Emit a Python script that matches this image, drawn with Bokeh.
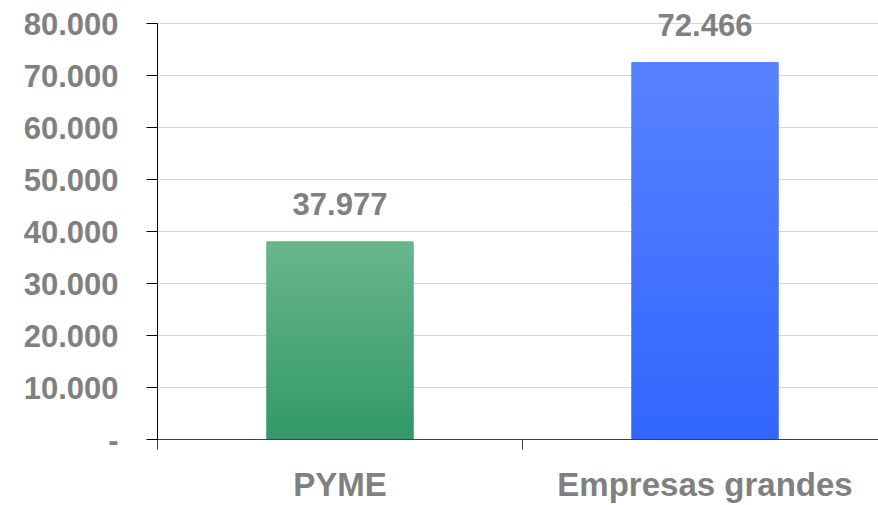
from bokeh.plotting import figure
from bokeh.models import FixedTicker, Range1d
from bokeh.embed import file_html
from bokeh.resources import INLINE
from bokeh.core.properties import value

# ---- data ----
categories = ["PYME", "Empresas grandes"]
values = [37977, 72466]
value_labels = ["37.977", "72.466"]
y_ticks = [0, 10000, 20000, 30000, 40000, 50000, 60000, 70000, 80000]
y_tick_labels = ["-", "10.000", "20.000", "30.000", "40.000", "50.000", "60.000", "70.000", "80.000"]

# ---- style ----
top_colors = [(0x68, 0xB5, 0x8C), (0x57, 0x82, 0xFF)]
bottom_colors = [(0x33, 0x99, 0x66), (0x33, 0x66, 0xFF)]
TEXT = "#808080"
FONT = "Liberation Sans"

W, H = 878, 505
left, bottom_border = 157, 66
frame_h = H - bottom_border
px_per_unit = 416 / 80000.0
y_end = frame_h / px_per_unit
x_end = (W - left) / 365.0

x_centers = [i + 0.5 for i in range(len(categories))]
boundaries = [i for i in range(len(categories) + 1)]

p = figure(width=W, height=H, title=None,
           x_range=Range1d(0, x_end), y_range=Range1d(0, y_end),
           output_backend="svg", toolbar_location=None,
           min_border_left=left, min_border_right=0, min_border_top=0,
           min_border_bottom=bottom_border)
p.outline_line_color = None
p.background_fill_color = "white"
p.border_fill_color = "white"

# gradient bars drawn as thin horizontal slices of each bar
N = 60
xs, bots, tops, cols = [], [], [], []
for xc, v, tc, bc in zip(x_centers, values, top_colors, bottom_colors):
    for k in range(N):
        t = k / (N - 1)
        c = tuple(int(round(bc[j] + (tc[j] - bc[j]) * t)) for j in range(3))
        xs.append(xc)
        bots.append(v * k / N)
        tops.append(v * (k + 1) / N)
        cols.append("#%02x%02x%02x" % c)
p.vbar(x=xs, bottom=bots, top=tops, width=0.4, fill_color=cols, line_color=cols, line_width=1.5)

p.text(x=x_centers, y=values, text=value_labels, text_align="center",
       text_baseline="alphabetic", y_offset=-38,
       text_font=value(FONT), text_font_style="bold", text_font_size="31px",
       text_color=TEXT)

# y axis
yt = FixedTicker(ticks=y_ticks)
p.yaxis.ticker = yt
p.yaxis.major_label_overrides = {t: l for t, l in zip(y_ticks, y_tick_labels)}
p.yaxis.bounds = (y_ticks[0], y_ticks[-1])
p.yaxis.axis_line_color = "black"
p.yaxis.major_tick_line_color = "black"
p.yaxis.major_tick_out = 11
p.yaxis.major_tick_in = 0
p.yaxis.minor_tick_line_color = None
p.yaxis.major_label_standoff = 28
p.yaxis.major_label_text_font = FONT
p.yaxis.major_label_text_font_style = "bold"
p.yaxis.major_label_text_font_size = "31px"
p.yaxis.major_label_text_color = TEXT

# x axis
p.xaxis.ticker = FixedTicker(ticks=x_centers, minor_ticks=boundaries)
p.xaxis.major_label_overrides = {x: c for x, c in zip(x_centers, categories)}
p.xaxis.axis_line_color = "#404040"
p.xaxis.major_tick_line_color = None
p.xaxis.major_tick_out = 0
p.xaxis.major_tick_in = 0
p.xaxis.minor_tick_line_color = "#404040"
p.xaxis.minor_tick_out = 10
p.xaxis.minor_tick_in = 0
p.xaxis.major_label_standoff = 16
p.xaxis.major_label_text_font = FONT
p.xaxis.major_label_text_font_style = "bold"
p.xaxis.major_label_text_font_size = "33px"
p.xaxis.major_label_text_color = TEXT

# grid
p.xgrid.visible = False
p.ygrid.ticker = yt
p.ygrid.grid_line_color = "#D6D6D6"
p.ygrid.grid_line_width = 1

open("out.html", "w").write(file_html(p, INLINE))
